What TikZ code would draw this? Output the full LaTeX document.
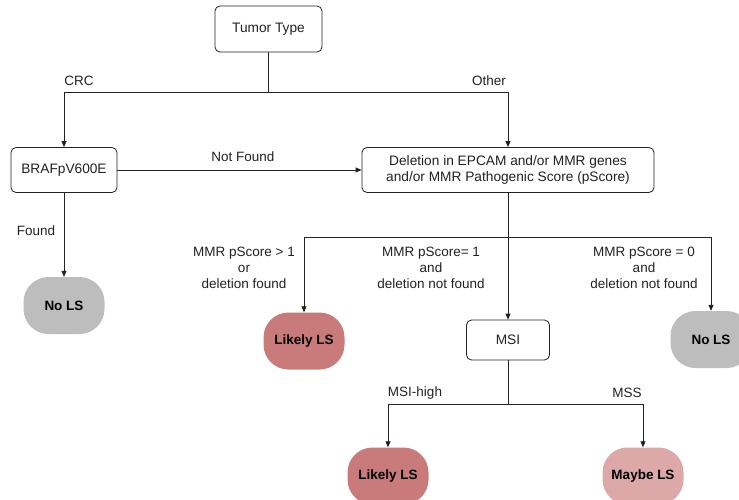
\documentclass[tikz,border=0pt]{standalone}
\usepackage{fontspec}
\setmainfont{Liberation Sans}
\usetikzlibrary{arrows.meta}
\definecolor{greyfill}{HTML}{BDBDBD}
\definecolor{likelyfill}{HTML}{C97B7B}
\definecolor{maybefill}{HTML}{DDA8A8}
\definecolor{ink}{HTML}{222222}
\begin{document}
\begin{tikzpicture}[x=1pt,y=-1pt,
  box/.style={draw=ink, line width=0.8pt, rounded corners=5pt, fill=white, inner sep=0pt, align=center, font=\fontsize{13.7}{16}\selectfont, text=ink},
  term/.style={rounded corners=25pt, inner sep=0pt, minimum width=81pt, minimum height=57pt, font=\bfseries\fontsize{13.5}{16}\selectfont, text=black},
  lbl/.style={font=\fontsize{13.5}{16}\selectfont, align=center, text=ink, inner sep=0pt},
  conn/.style={draw=ink, line width=0.8pt, -{Triangle[length=6pt,width=5pt]}},
  wire/.style={draw=ink, line width=0.8pt}]
\clip (0,0) rectangle (739,499);
\fill[white] (0,0) rectangle (739,499);
% nodes
\node[box, minimum width=107pt, minimum height=46pt] (tumor) at (268.5,29) {Tumor Type};
\node[box, minimum width=106pt, minimum height=45pt] (braf) at (64,170) {BRAFpV600E};
\node[box, minimum width=292pt, minimum height=45pt] (del) at (508,170) {Deletion in EPCAM and/or MMR genes\\and/or MMR Pathogenic Score (pScore)};
\node[term, fill=greyfill] (nolsa) at (64,305.5) {No LS};
\node[term, fill=likelyfill] (likelya) at (304,341) {Likely LS};
\node[box, minimum width=83pt, minimum height=40pt] (msi) at (508,340) {MSI};
\node[term, fill=greyfill] (nolsb) at (711,339.5) {No LS};
\node[term, fill=likelyfill] (likelyb) at (388,476) {Likely LS};
\node[term, fill=maybefill] (maybe) at (643,476) {Maybe LS};
% junctions
\coordinate (ja) at (268.5,92);
\coordinate (jb) at (508,237);
\coordinate (jc) at (508,404);
% connectors
\draw[wire] (tumor.south) -- (ja);
\draw[conn] (ja) -| (braf.north);
\draw[conn] (ja) -| (del.north);
\draw[conn] (braf.east) -- (del.west);
\draw[conn] (braf.south) -- (nolsa.north);
\draw[wire] (del.south) -- (jb);
\draw[conn] (jb) -| (likelya.north);
\draw[conn] (jb) -| (nolsb.north);
\draw[conn] (jb) -- (msi.north);
\draw[wire] (msi.south) -- (jc);
\draw[conn] (jc) -| (likelyb.north);
\draw[conn] (jc) -| (maybe.north);
% labels
\node[lbl] (lcrc) at (79,81) {CRC};
\node[lbl] (lother) at (489,81) {Other};
\node[lbl] (lnf) at (243,157) {Not Found};
\node[lbl] (lfound) at (36,231) {Found};
\node[lbl] (lgt) at (244,268) {MMR pScore > 1\\or\\deletion found};
\node[lbl] (leq1) at (431,268) {MMR pScore= 1\\and\\deletion not found};
\node[lbl] (leq0) at (644,268) {MMR pScore = 0\\and\\deletion not found};
\node[lbl] (lhigh) at (415,393) {MSI-high};
\node[lbl] (lmss) at (627,393) {MSS};
\end{tikzpicture}
\end{document}
